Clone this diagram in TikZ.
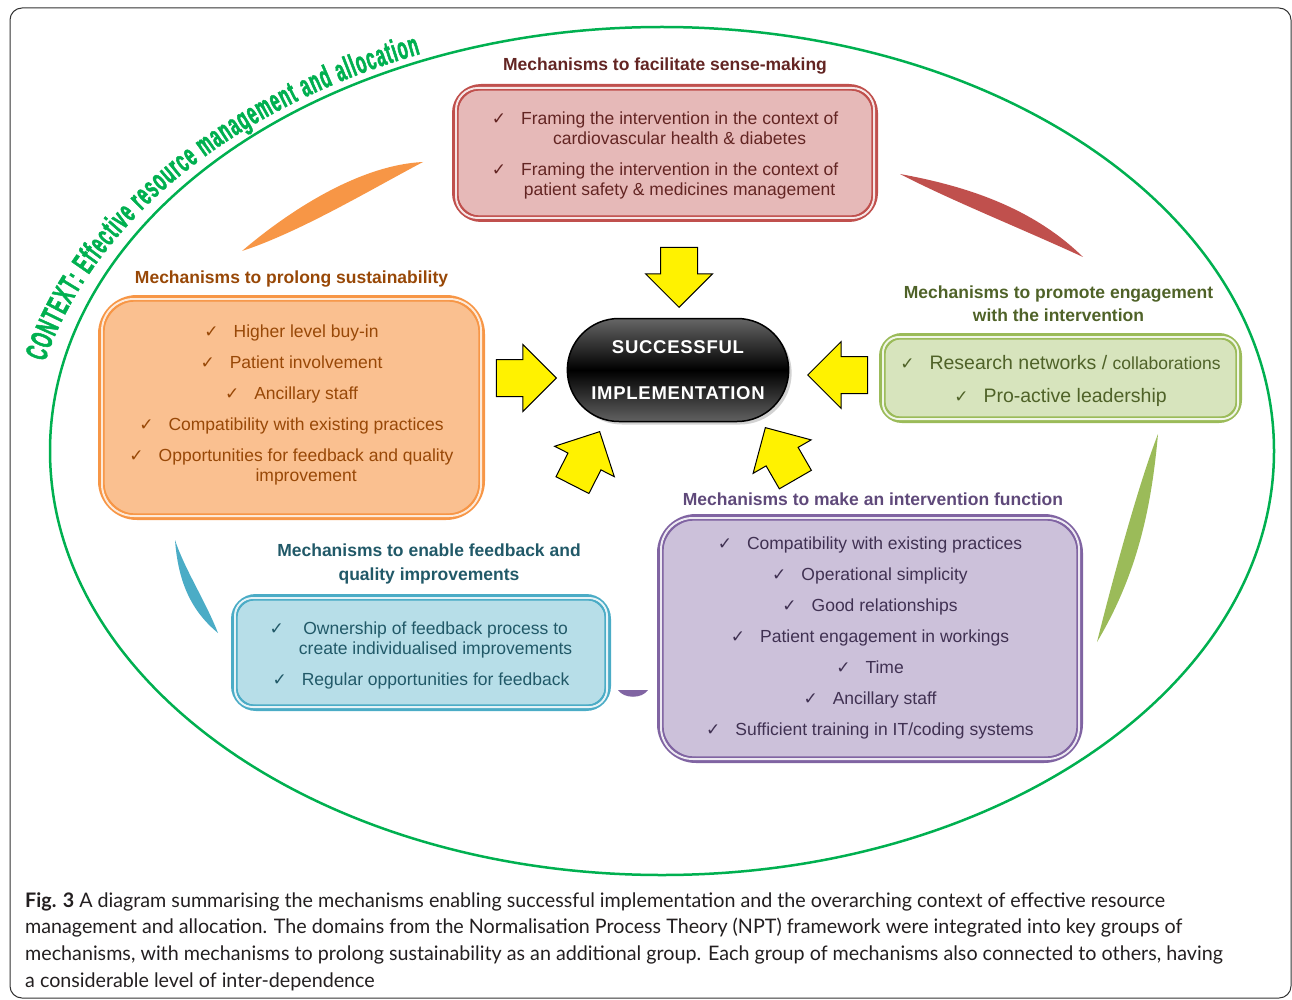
\documentclass[tikz,border=0pt]{standalone}
\usepackage{fontspec}
\setmainfont{Liberation Sans}
\newfontfamily\chkfont{DejaVu Sans}
\newfontfamily\ctxfont{Liberation Sans Bold}[FakeStretch=0.53, FakeBold=1.6]
\newfontfamily\hubfont{Liberation Sans}[LetterSpace=4]
\newfontfamily\capfont{Lato}[FakeStretch=0.985]
\usepackage{tikz}
\usetikzlibrary{
	positioning,
	shapes.misc,
	shapes.arrows,
	shadows,
	decorations.text
}
\definecolor{senseLine}{HTML}{C0504D}
\definecolor{senseFill}{HTML}{E6B9B8}
\definecolor{senseText}{HTML}{632523}
\definecolor{sustainLine}{HTML}{F79646}
\definecolor{sustainFill}{HTML}{FAC090}
\definecolor{sustainText}{HTML}{984807}
\definecolor{engageLine}{HTML}{9BBB59}
\definecolor{engageFill}{HTML}{D7E4BD}
\definecolor{engageText}{HTML}{4F6228}
\definecolor{functionLine}{HTML}{8064A2}
\definecolor{functionFill}{HTML}{CCC1DA}
\definecolor{functionText}{HTML}{403152}
\definecolor{functionHead}{HTML}{5F497A}
\definecolor{feedbackLine}{HTML}{4BACC6}
\definecolor{feedbackFill}{HTML}{B7DEE8}
\definecolor{feedbackText}{HTML}{215968}
\definecolor{contextGreen}{HTML}{00B050}
\definecolor{captionText}{HTML}{231F20}

% one ticked item, continuation lines centred under the text
\newcommand{\chk}[1]{{\chkfont\fontsize{17}{16}\selectfont ✓}\hspace{15pt}\begin{tabular}[t]{@{}c@{}}#1\end{tabular}}
% light and dark inner lines of a box
\newcommand{\boxrim}[3]{%
	\draw[glow=#2, rounded corners=#3+2] ([shift={(4,4)}]#1.north west) rectangle ([shift={(-4,-4)}]#1.south east);
	\draw[rim=#2, rounded corners=#3] ([shift={(6,6)}]#1.north west) rectangle ([shift={(-6,-6)}]#1.south east);
}
\tikzset{
	box/.style={draw=#1Line, fill=#1Fill, line width=6},
	items/.style={
		text=#1Text, align=center, inner sep=0,
		font=\fontsize{17.5}{20}\selectfont
	},
	rim/.style={draw=#1Line, line width=1.4},
	glow/.style={draw=#1Fill!35!white, line width=2},
	heading/.style={
		text=#1, align=center, inner sep=0,
		font=\bfseries\fontsize{17.5}{23.5}\selectfont
	},
	blade/.style={fill=#1Line},
	pointer/.style={
		single arrow, draw=black, fill=yellow, line width=1,
		minimum height=60, minimum width=66,
		single arrow head extend=15, inner xsep=0, inner ysep=18, anchor=tip
	},
	hub/.style={
		rounded rectangle, draw=black, line width=1.5,
		minimum width=228, minimum height=103,
		top color=black!60, bottom color=black!62, middle color=black,
		text=white, align=center,
		font=\hubfont\bfseries\fontsize{18.5}{46}\selectfont,
		drop shadow={shadow xshift=3pt, shadow yshift=-3pt, fill=black!35}
	}
}

\begin{document}
\begin{tikzpicture}[x=1pt, y=-1pt]
	\useasboundingbox (0,0) rectangle (1292,1000);
	\draw[black!80, line width=1, rounded corners=12] (10,8) rectangle (1291,998);

	% context
	\draw[contextGreen, line width=2.5] (662,451) ellipse [x radius=612, y radius=424];
	\path[decorate, decoration={text along path, text align=fit to path, text color=contextGreen,
		text={|\ctxfont\fontsize{31}{31}\selectfont|CONTEXT: Effective resource management and allocation}}]
		(45,362) arc[start angle=-166.6, end angle=-112.3, x radius=632, y radius=444];

	% links between the groups
	\fill[blade=sustain] (242,251) .. controls (290,210) and (360,165) .. (423,162) .. controls (370,190) and (300,232) .. cycle;
	\fill[blade=sense] (900,174) .. controls (960,185) and (1030,205) .. (1083,257) .. controls (1020,228) and (950,200) .. cycle;
	\fill[blade=engage] (1158,434) .. controls (1152,500) and (1140,570) .. (1097,642) .. controls (1115,570) and (1140,480) .. cycle;
	\fill[blade=feedback] (175,540) .. controls (178,580) and (190,610) .. (218,633) .. controls (205,600) and (185,570) .. cycle;
	\fill[blade=function] (618,690) -- (648,690) .. controls (642,699) and (624,699) .. cycle;

	% groups
	\node[box=sense, minimum width=420, minimum height=132, rounded corners=26] (sense) at (665,153) {};
	\node[box=sustain, minimum width=381, minimum height=219, rounded corners=36] (sustain) at (291.5,407.5) {};
	\node[box=engage, minimum width=357, minimum height=84, rounded corners=20] (engage) at (1060.5,378) {};
	\node[box=function, minimum width=420, minimum height=243, rounded corners=36] (function) at (870,638.5) {};
	\node[box=feedback, minimum width=374, minimum height=111, rounded corners=22] (feedback) at (421,652.5) {};
	\boxrim{sense}{sense}{20}
	\boxrim{sustain}{sustain}{30}
	\boxrim{engage}{engage}{14}
	\boxrim{function}{function}{30}
	\boxrim{feedback}{feedback}{16}

	\node[items=sense] (senseList) at ([yshift=-3.5pt]sense.center)
		{\chk{Framing the intervention in the context of\\cardiovascular health \& diabetes}\\[10pt]
		 \chk{Framing the intervention in the context of\\patient safety \& medicines management}};
	\node[items=sustain] (sustainList) at ([yshift=2pt]sustain.center)
		{\chk{Higher level buy-in}\\[11pt]
		 \chk{Patient involvement}\\[11pt]
		 \chk{Ancillary staff}\\[11pt]
		 \chk{Compatibility with existing practices}\\[11pt]
		 \chk{Opportunities for feedback and quality\\improvement}};
	\node[items=engage, font=\fontsize{19.5}{22}\selectfont] (engageList) at ([yshift=-4pt]engage.center)
		{\chk{Research networks / {\fontsize{17.5}{22}\selectfont collaborations}}\\[11pt]
		 \chk{Pro-active leadership}};
	\node[items=function] (functionList) at (function.center)
		{\chk{Compatibility with existing practices}\\[11pt]
		 \chk{Operational simplicity}\\[11pt]
		 \chk{Good relationships}\\[11pt]
		 \chk{Patient engagement in workings}\\[11pt]
		 \chk{Time}\\[11pt]
		 \chk{Ancillary staff}\\[11pt]
		 \chk{Sufficient training in IT/coding systems}};
	\node[items=feedback] (feedbackList) at ([yshift=-3pt]feedback.center)
		{\chk{Ownership of feedback process to\\create individualised improvements}\\[10pt]
		 \chk{Regular opportunities for feedback}};

	\node[heading=senseText, above=10pt of sense] (senseTitle) {Mechanisms to facilitate sense-making};
	\node[heading=sustainText, above=8pt of sustain] (sustainTitle) {Mechanisms to prolong sustainability};
	\node[heading=engageText, above=11pt of engage, xshift=-2pt] (engageTitle) {Mechanisms to promote engagement\\with the intervention};
	\node[heading=functionHead, above=8pt of function, xshift=3pt] (functionTitle) {Mechanisms to make an intervention function};
	\node[heading=feedbackText, above=10pt of feedback, xshift=8pt] (feedbackTitle) {Mechanisms to enable feedback and\\quality improvements};

	% centre
	\node[hub] (hub) at (678,370) {SUCCESSFUL\\IMPLEMENTATION};
	\node[pointer, rotate=-90] (arrTop) at (679,308) {};
	\node[pointer] (arrLeft) at (557,378) {};
	\node[pointer, rotate=180] (arrRight) at (807,375) {};
	\node[pointer, rotate=63] (arrLowLeft) at (600,431) {};
	\node[pointer, rotate=120] (arrLowRight) at (765,427) {};

	% caption
	\node[anchor=north west, align=left, inner sep=0, text=captionText,
		font=\capfont\fontsize{20}{26.7}\selectfont] (caption) at (25,892)
		{{\bfseries Fig. 3} A diagram summarising the mechanisms enabling successful implementation and the overarching context of effective resource\\
		management and allocation. The domains from the Normalisation Process Theory (NPT) framework were integrated into key groups of\\
		mechanisms, with mechanisms to prolong sustainability as an additional group. Each group of mechanisms also connected to others, having\\
		a considerable level of inter-dependence};
\end{tikzpicture}
\end{document}
